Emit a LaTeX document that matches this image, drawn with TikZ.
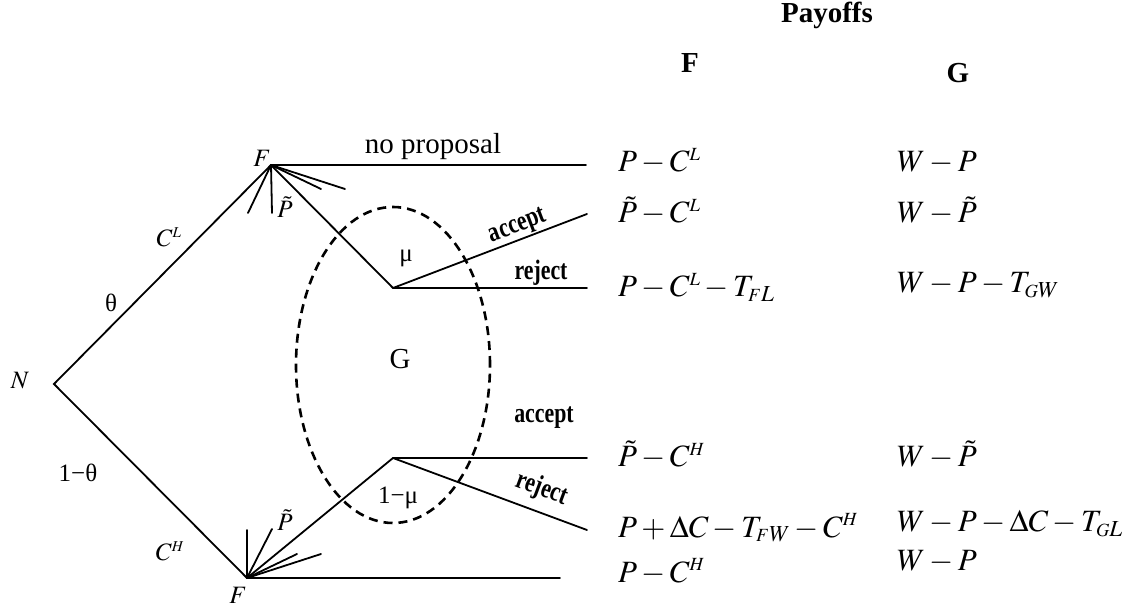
\documentclass[tikz,border=0pt]{standalone}
\usepackage{mathptmx}
\usepackage{fontspec}
\setmainfont{Liberation Serif}
\newfontfamily\actfont{Liberation Serif}[FakeStretch=0.78]
\usetikzlibrary{shapes.geometric}
\newcommand{\sss}[1]{{\scriptscriptstyle #1}}
\begin{document}
\begin{tikzpicture}[x=1pt,y=-1pt,
  edge/.style={line width=1.8pt, line cap=round},
  lbl/.style={inner sep=0pt, font=\fontsize{25}{29}\selectfont},
  pay/.style={anchor=base west, inner sep=0pt, font=\fontsize{31}{36}\selectfont},
  act/.style={inner sep=0pt, font=\fontsize{28}{32}\selectfont\actfont\bfseries},
  head/.style={anchor=base, inner sep=0pt, font=\fontsize{29}{34}\selectfont\bfseries},
  infoset/.style={draw, ellipse, line width=2.6pt, dash pattern=on 9pt off 6pt, inner sep=0pt}]
\path[use as bounding box] (0,0) rectangle (1144,609);

% tree nodes
\coordinate (N) at (54,384);
\coordinate (FL) at (271,165);
\coordinate (FH) at (247,578);
\coordinate (GL) at (393,288);
\coordinate (GH) at (393,458);
\coordinate (eNP) at (586,165);
\coordinate (eLA) at (587,214);
\coordinate (eLR) at (587,288);
\coordinate (eHA) at (587,458);
\coordinate (eHR) at (587,530);
\coordinate (eHN) at (560,578);
\coordinate (fL1) at (248,213);
\coordinate (fL2) at (272,213);
\coordinate (fL3) at (321,189);
\coordinate (fL4) at (345,189);
\coordinate (fH1) at (247,530);
\coordinate (fH2) at (272,529);
\coordinate (fH3) at (297,554);
\coordinate (fH4) at (321,554);

% information set
\node[infoset, minimum width=194pt, minimum height=316pt] (Gset) at (393,365) {};

% edges
\draw[edge] (FL) -- (N) -- (FH);
\draw[edge] (FL) -- (eNP);
\draw[edge] (FL) -- (GL);
\draw[edge] (GL) -- (eLA);
\draw[edge] (GL) -- (eLR);
\draw[edge] (FH) -- (GH);
\draw[edge] (GH) -- (eHA);
\draw[edge] (GH) -- (eHR);
\draw[edge] (FH) -- (eHN);
\foreach \e in {fL1,fL2,fL3,fL4} \draw[edge] (FL) -- (\e);
\foreach \e in {fH1,fH2,fH3,fH4} \draw[edge] (FH) -- (\e);

% labels
\node[lbl] (lN) at (20,381) {$N$};
\node[lbl] (lF1) at (262,158) {$F$};
\node[lbl] (lF2) at (238,595) {$F$};
\node[lbl] (lCL) at (169,237) {$C^{\sss L}$};
\node[lbl] (lth) at (111,303) {θ};
\node[lbl] (l1th) at (78,473) {1−θ};
\node[lbl] (lCH) at (170,551) {$C^{\sss H}$};
\node[lbl] (lPt1) at (285,207) {$\tilde P$};
\node[lbl] (lPt2) at (285,520) {$\tilde P$};
\node[lbl] (lmu) at (406,258) {μ};
\node[lbl] (l1mu) at (398,498) {1−μ};
\node[lbl, font=\fontsize{29}{34}\selectfont] (lG) at (400,359) {G};
\node[inner sep=0pt, anchor=base, font=\fontsize{29}{34}\selectfont] (lnp) at (433,154) {no proposal};

\node[act, rotate=20.6] (la1) at (518,227) {accept};
\node[act] (lr1) at (541,273) {reject};
\node[act] (la2) at (544,418) {accept};
\node[act, rotate=-20.4] (lr2) at (542,489) {reject};

% payoffs
\node[head] (hP) at (827,23) {Payoffs};
\node[head] (hF) at (690,73) {F};
\node[head] (hG) at (958,83) {G};

\node[pay] (pF1) at (618,172) {$P-C^{\sss L}$};
\node[pay] (pF2) at (618,223) {$\tilde P-C^{\sss L}$};
\node[pay] (pF3) at (618,297) {$P-C^{\sss L}-T_{\sss FL}$};
\node[pay] (pF4) at (618,467) {$\tilde P-C^{\sss H}$};
\node[pay] (pF5) at (618,537) {$P+\Delta C-T_{\sss FW}-C^{\sss H}$};
\node[pay] (pF6) at (618,582) {$P-C^{\sss H}$};

\node[pay] (pG1) at (897,172) {$W-P$};
\node[pay] (pG2) at (897,223) {$W-\tilde P$};
\node[pay] (pG3) at (897,293) {$W-P-T_{\sss GW}$};
\node[pay] (pG4) at (897,467) {$W-\tilde P$};
\node[pay] (pG5) at (897,532) {$W-P-\Delta C-T_{\sss GL}$};
\node[pay] (pG6) at (897,570) {$W-P$};
\end{tikzpicture}
\end{document}
